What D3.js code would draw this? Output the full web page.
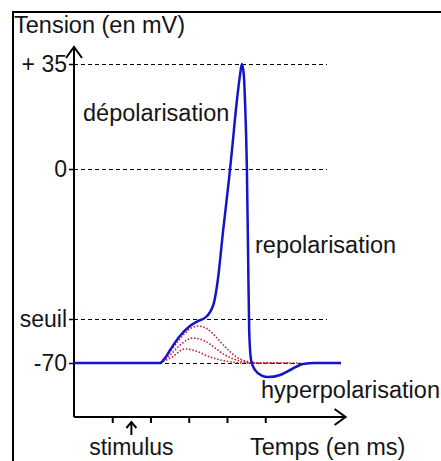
<!DOCTYPE html>
<html>
<head>
<meta charset="utf-8">
<script src="https://cdn.jsdelivr.net/npm/d3@7"></script>
<style>
  body { margin: 0; background: #fff; }
  svg text { font-family: "Liberation Sans", Arial, sans-serif; fill: #151515; }
</style>
</head>
<body>
<svg id="chart" width="441" height="461"></svg>
<script>
// levels on the voltage axis (mV) and their labels
const levels = [35, 0, -55, -70];
const levelLabels = ["+ 35", "0", "seuil", "-70"];
const timeTicks = [1, 2, 3, 4, 5];   // ms
const stimulusTime = 1.5;

// potentiel d'action (ms, mV)
const actionTime = [0, 2.25, 2.38, 2.51, 2.77, 3.03, 3.24, 3.42, 3.56, 3.66, 3.76, 3.9, 4.05, 4.13, 4.26, 4.34, 4.39, 4.44, 4.47, 4.52, 4.55, 4.58, 4.63, 4.73, 4.92, 5.07, 5.39, 5.7, 5.99, 6.3, 6.98];
const actionMV   = [-70, -70, -68.3, -65.6, -60.8, -57.4, -55.7, -54.6, -52.4, -49, -40.7, -22.4, -4, 6.3, 23, 31.3, 35, 31.3, 23, 0, -29.7, -58.8, -69, -72.3, -74.3, -74.7, -74, -72, -70.3, -70, -70];

// réponses infraliminaires
const subA_time = [2.25, 2.51, 2.77, 3.03, 3.24, 3.45, 3.69, 3.95, 4.21, 4.47, 4.86, 5.91];
const subA_mV   = [-70, -66.2, -61.8, -58.4, -57.4, -58.1, -60.8, -64.5, -67.6, -69.3, -70, -70];
const subB_time = [2.25, 2.51, 2.77, 3.11, 3.42, 3.69, 3.95, 4.34, 4.73, 5.65];
const subB_mV   = [-70, -67.3, -63.9, -61.5, -62.5, -64.9, -67.3, -69.3, -70, -70];
const subC_time = [2.25, 2.56, 2.9, 3.24, 3.56, 3.95, 4.47, 5.39];
const subC_mV   = [-70, -68, -65.2, -66.2, -68, -69.3, -70, -70];

const svg = d3.select("#chart");

// cadre
svg.append("rect")
  .attr("x", 13).attr("y", 12)
  .attr("width", 440).attr("height", 460)
  .attr("fill", "none").attr("stroke", "#000").attr("stroke-width", 2);

const x = d3.scaleLinear().domain([0, 7.1]).range([74, 74 + 38.25 * 7.1]);
// échelle schématique, non linéaire
const y = d3.scaleLinear().domain([-88, -70, -55, 0, 35]).range([417, 363, 319, 169, 64]);

const axisX = 74, axisY = y(-88);
const crisp = v => Math.round(v) + 0.5;

// pointillés horizontaux
svg.append("g")
  .selectAll("line")
  .data(levels)
  .join("line")
    .attr("x1", axisX).attr("x2", 327)
    .attr("y1", d => crisp(y(d))).attr("y2", d => crisp(y(d)))
    .attr("stroke", "#000").attr("stroke-width", 1)
    .attr("stroke-dasharray", "4,3");

// axe vertical
svg.append("g")
  .attr("transform", `translate(${axisX},0)`)
  .call(d3.axisLeft(y)
    .tickValues(levels)
    .tickFormat((d, i) => levelLabels[i])
    .tickSize(5)
    .tickPadding(2))
  .call(g => g.select(".domain").remove())
  .call(g => g.selectAll(".tick line").attr("stroke", "#000").attr("stroke-width", 1.5))
  .call(g => g.selectAll(".tick text")
    .attr("font-size", "23px")
    .attr("font-family", "Liberation Sans, Arial, sans-serif")
    .attr("fill", "#151515"));

svg.append("line")
  .attr("x1", axisX).attr("x2", axisX)
  .attr("y1", axisY).attr("y2", 47)
  .attr("stroke", "#000").attr("stroke-width", 2);
svg.append("path")
  .attr("d", `M${axisX - 8},${58} L${axisX},${47} L${axisX + 8},${58}`)
  .attr("fill", "none").attr("stroke", "#000").attr("stroke-width", 2);

// axe horizontal
svg.append("g")
  .attr("transform", `translate(0,${axisY})`)
  .call(d3.axisBottom(x)
    .tickValues(timeTicks)
    .tickFormat("")
    .tickSizeInner(6)
    .tickSizeOuter(0))
  .call(g => g.select(".domain").remove())
  .call(g => g.selectAll(".tick line").attr("stroke", "#000").attr("stroke-width", 2));

svg.append("line")
  .attr("x1", axisX).attr("x2", x(7.1))
  .attr("y1", axisY).attr("y2", axisY)
  .attr("stroke", "#000").attr("stroke-width", 2);
svg.append("path")
  .attr("d", `M${x(7.1) - 11},${axisY - 8} L${x(7.1)},${axisY} L${x(7.1) - 11},${axisY + 8}`)
  .attr("fill", "none").attr("stroke", "#000").attr("stroke-width", 2);

// stimulus
svg.append("line")
  .attr("x1", x(stimulusTime)).attr("x2", x(stimulusTime))
  .attr("y1", 435).attr("y2", 422)
  .attr("stroke", "#000").attr("stroke-width", 2);
svg.append("path")
  .attr("d", `M${x(stimulusTime) - 5},${428} L${x(stimulusTime)},${422} L${x(stimulusTime) + 5},${428}`)
  .attr("fill", "none").attr("stroke", "#000").attr("stroke-width", 2);

const line = d3.line().x(d => x(d[0])).y(d => y(d[1])).curve(d3.curveMonotoneX);

// courbes infraliminaires
[[subA_time, subA_mV], [subB_time, subB_mV], [subC_time, subC_mV]].forEach(([t, v]) => {
  svg.append("path")
    .datum(d3.zip(t, v))
    .attr("d", line)
    .attr("fill", "none")
    .attr("stroke", "#b8202a")
    .attr("stroke-width", 1.6)
    .attr("stroke-dasharray", "1.5,1.8");
});

// potentiel d'action
svg.append("path")
  .datum(d3.zip(actionTime, actionMV))
  .attr("d", line)
  .attr("fill", "none")
  .attr("stroke", "#1414c8")
  .attr("stroke-width", 2.5)
  .attr("stroke-linejoin", "round");

// textes
const labels = [
  { text: "Tension (en mV)", x: 14, y: 33 },
  { text: "dépolarisation", x: 83, y: 121 },
  { text: "repolarisation", x: 255, y: 253 },
  { text: "hyperpolarisation", x: 261, y: 398 },
  { text: "Temps (en ms)", x: 250, y: 455 }
];
svg.append("g")
  .selectAll("text")
  .data(labels)
  .join("text")
    .attr("x", d => d.x).attr("y", d => d.y)
    .attr("font-size", "23.5px")
    .text(d => d.text);

svg.append("text")
  .attr("x", x(stimulusTime)).attr("y", 455)
  .attr("text-anchor", "middle")
  .attr("font-size", "23px")
  .text("stimulus");
</script>
</body>
</html>
